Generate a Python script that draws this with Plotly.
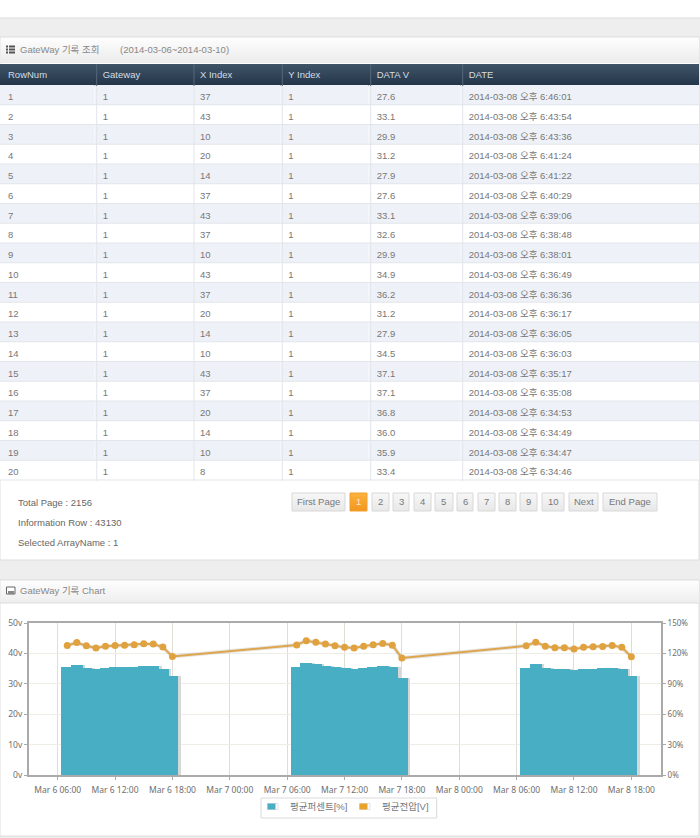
#!/usr/bin/env python3
"""GateWay log page: record table, pager and hourly chart."""

from datetime import datetime

import plotly.graph_objects as go

WIDTH = 700
HEIGHT = 838
FONT = "Liberation Sans, Noto Sans CJK KR, sans-serif"
CHART_FONT = "Noto Sans, Noto Sans CJK KR, sans-serif"

# table data
table_columns = ["RowNum", "Gateway", "X Index", "Y Index", "DATA V", "DATE"]
row_num = list(range(1, 21))
gateway = [1] * 20
x_index = [37, 43, 10, 20, 14, 37, 43, 37, 10, 43, 37, 20, 14, 10, 43, 37, 20, 14, 10, 8]
y_index = [1] * 20
data_v = ["27.6", "33.1", "29.9", "31.2", "27.9", "27.6", "33.1", "32.6", "29.9", "34.9",
          "36.2", "31.2", "27.9", "34.5", "37.1", "37.1", "36.8", "36.0", "35.9", "33.4"]
clock = ["6:46:01", "6:43:54", "6:43:36", "6:41:24", "6:41:22", "6:40:29", "6:39:06",
         "6:38:48", "6:38:01", "6:36:49", "6:36:36", "6:36:17", "6:36:05", "6:36:03",
         "6:35:17", "6:35:08", "6:34:53", "6:34:49", "6:34:47", "6:34:46"]
date_text = [f"2014-03-08 오후 {c}" for c in clock]

# chart data
days = [6, 7, 8]
hours = [7, 8, 9, 10, 11, 12, 13, 14, 15, 16, 17, 18]
percent_mar6 = [106.4, 109.0, 106.0, 104.8, 105.8, 106.4, 106.8, 107.1, 107.7, 107.4, 105.1, 97.9]
percent_mar7 = [107.0, 110.7, 109.5, 108.0, 106.5, 105.5, 105.0, 105.8, 107.0, 108.0, 106.8, 96.0]
percent_mar8 = [106.0, 109.4, 106.0, 105.0, 104.8, 103.8, 104.8, 105.0, 105.4, 106.0, 104.8, 97.6]
volt_mar6 = [42.6, 43.6, 42.5, 41.8, 42.4, 42.6, 42.7, 42.9, 43.2, 43.1, 42.1, 39.0]
volt_mar7 = [42.8, 44.2, 43.7, 43.1, 42.5, 42.0, 41.8, 42.4, 42.9, 43.3, 42.7, 38.5]
volt_mar8 = [42.5, 43.7, 42.4, 41.9, 41.9, 41.5, 42.0, 42.2, 42.3, 42.6, 42.0, 38.9]

percent_name = "평균퍼센트[%]"
volt_name = "평균전압[V]"
pager_labels = ["First Page", "1", "2", "3", "4", "5", "6", "7", "8", "9", "10", "Next", "End Page"]
info_lines = ["Total Page : 2156", "Information Row : 43130", "Selected ArrayName : 1"]

times = [datetime(2014, 3, d, h) for d in days for h in hours]
percent = percent_mar6 + percent_mar7 + percent_mar8
volts = volt_mar6 + volt_mar7 + volt_mar8

BAR_COLOR = "#47AEC4"
LINE_COLOR = "#DDA64E"
MARKER_COLOR = "#E0A23E"


def px(x):
    return x / WIDTH


def py(y):
    return 1 - y / HEIGHT


def rect(x0, y0, x1, y1, fill, line=None, layer="below"):
    return dict(
        type="rect", xref="paper", yref="paper", layer=layer,
        x0=px(x0), x1=px(x1), y0=py(y0), y1=py(y1),
        fillcolor=fill, line=dict(color=line or fill, width=1 if line else 0),
    )


def hline(x0, x1, y, color, layer="below"):
    return dict(
        type="line", xref="paper", yref="paper", layer=layer,
        x0=px(x0), x1=px(x1), y0=py(y), y1=py(y), line=dict(color=color, width=1),
    )


def vline(x, y0, y1, color, layer="below"):
    return dict(
        type="line", xref="paper", yref="paper", layer=layer,
        x0=px(x), x1=px(x), y0=py(y0), y1=py(y1), line=dict(color=color, width=1),
    )


def gradient(x0, x1, y0, y1, top, bottom):
    """Stack of thin bands, shapes have no gradient fill."""
    bands = []
    n = y1 - y0
    for i in range(n):
        mix = i / max(n - 1, 1)
        c = [round(a + (b - a) * mix) for a, b in zip(top, bottom)]
        bands.append(rect(x0, y0 + i, x1, y0 + i + 1, f"rgb({c[0]},{c[1]},{c[2]})"))
    return bands


def text(x, y, s, size=9.5, color="#777777", anchor="left", family=FONT):
    return dict(
        xref="paper", yref="paper", x=px(x), y=py(y), text=s, showarrow=False,
        xanchor=anchor, yanchor="middle", font=dict(family=family, size=size, color=color),
    )


shapes = []
annotations = []

# page chrome
shapes.append(rect(0, 18, 700, 838, "#EEEEEE"))
shapes.append(hline(0, 700, 18, "#DDDDDD"))
shapes.append(rect(0, 37, 699, 560, "#FFFFFF", "#DDDDDD"))
shapes.append(rect(0, 580, 699, 836, "#FFFFFF", "#DDDDDD"))
shapes += gradient(1, 699, 38, 63, (253, 253, 253), (236, 236, 236))
shapes += gradient(1, 699, 581, 603, (253, 253, 253), (238, 238, 238))
shapes.append(hline(0, 699, 603, "#DDDDDD"))

# list icon next to the table title
for row_y in (45.5, 48.5, 51.5):
    shapes.append(rect(6, row_y, 8, row_y + 2, "#555555"))
    shapes.append(rect(9, row_y, 15, row_y + 2, "#555555"))
# picture icon next to the chart title
shapes.append(rect(6.5, 587, 15, 594, "#FFFFFF", "#666666"))
shapes.append(rect(8, 591, 14, 594, "#888888"))

annotations.append(text(18, 49, "GateWay 기록 조회", color="#888888"))
annotations.append(text(118, 49, "(2014-03-06~2014-03-10)", color="#888888"))
annotations.append(text(18, 590.5, "GateWay 기록 Chart", color="#888888"))

# table header and grid
shapes += gradient(0, 699, 64, 86, (64, 84, 104), (35, 53, 72))
col_lines = [96.7, 194, 282.3, 370.7, 462.7]
for x in col_lines:
    shapes.append(vline(x, 64, 86, "#56677A", layer="above"))
    shapes.append(vline(x, 86, 481, "#E2E5EA", layer="above"))
for i in range(1, 21):
    shapes.append(hline(0, 699, 85 + i * 19.75, "#E2E5EA", layer="above"))

# pager
pager_spans = [(292, 345), (350, 367), (372, 389), (393, 409), (414, 431), (435, 453), (457, 473),
               (478, 495), (499, 516), (520, 537), (542, 564), (569, 598), (603, 657)]
for label, (x0, x1) in zip(pager_labels, pager_spans):
    active = label == "1"
    shapes += gradient(x0, x1, 493, 511,
                       (252, 178, 60) if active else (247, 247, 247),
                       (243, 150, 30) if active else (232, 232, 232))
    shapes.append(rect(x0, 493, x1, 511, "rgba(0,0,0,0)", "#EFA030" if active else "#D8D8D8"))
    annotations.append(text((x0 + x1) / 2, 501.3, label, color="#FFE9C8" if active else "#777777", anchor="center"))

for y, line in zip((502.5, 522.5, 542.5), info_lines):
    annotations.append(text(16, y, line, size=9.5, color="#666666"))

# legend box, the native one cannot get this flat
shapes.append(rect(261, 798, 436.7, 818, "#FFFFFF", "#DADADA"))
for x0, color, label, label_x in ((267.5, BAR_COLOR, percent_name, 287.5), (359.5, "#E8A22C", volt_name, 379.5)):
    shapes.append(rect(x0, 803.5, x0 + 10.5, 809.5, "#FFFFFF", "#E2E2E2"))
    shapes.append(rect(x0, 803.5, x0 + 8, 809.5, color))
    annotations.append(text(label_x, 806.7, label, size=9.5))

fig = go.Figure()

# column edges sit 2px left of the drawn lines, table cells have a fixed 8px pad
table_widths = [94.7, 97.3, 88.3, 88.4, 92, 238.3]
fig.add_trace(
    go.Table(
        domain=dict(x=[0, 699 / WIDTH], y=[py(481), py(63)]),
        columnwidth=table_widths,
        header=dict(
            values=table_columns,
            height=22,
            align="left",
            fill=dict(color="rgba(0,0,0,0)"),
            line=dict(width=0),
            font=dict(family=FONT, size=9.5, color="#D5DCE3"),
        ),
        cells=dict(
            values=[row_num, gateway, x_index, y_index, data_v, date_text],
            height=19.75,
            align="left",
            fill=dict(color=[["#EEF2F8" if i % 2 == 0 else "#FFFFFF" for i in range(20)]] * 6),
            line=dict(width=0),
            font=dict(family=FONT, size=9.5, color="#777777"),
        ),
    )
)

BAR_MS = 1.25 * 3600 * 1000
fig.add_trace(
    go.Bar(
        x=times, y=percent, yaxis="y2", width=BAR_MS, offset=-BAR_MS / 2 + 900000,
        marker=dict(color="#D4D8D8", line=dict(width=0)), hoverinfo="skip",
    )
)
fig.add_trace(
    go.Bar(
        x=times, y=percent, yaxis="y2", width=BAR_MS, offset=-BAR_MS / 2,
        name=percent_name, marker=dict(color=BAR_COLOR, line=dict(width=0)),
    )
)
# line shadow, then the voltage line
fig.add_trace(
    go.Scatter(
        x=times, y=volts, mode="lines", line=dict(color="rgba(120,110,90,0.18)", width=4),
        hoverinfo="skip",
    )
)
fig.add_trace(
    go.Scatter(
        x=times, y=volts, mode="lines+markers", name=volt_name,
        line=dict(color=LINE_COLOR, width=2), marker=dict(color=MARKER_COLOR, size=7),
    )
)

axis_font = dict(family=CHART_FONT, size=8.5, color="#6E6E6E")
fig.update_layout(
    width=WIDTH,
    height=HEIGHT,
    autosize=False,
    showlegend=False,
    margin=dict(l=0, r=0, t=0, b=0),
    paper_bgcolor="#FFFFFF",
    plot_bgcolor="#FFFDF8",
    barmode="overlay",
    bargap=0,
    shapes=shapes,
    annotations=annotations,
    xaxis=dict(
        automargin=False,
        domain=[px(29), px(661)],
        type="date",
        range=["2014-03-06 03:00", "2014-03-08 21:06"],
        tick0="2014-03-06 00:00",
        dtick=6 * 3600 * 1000,
        tickformat="%b %-d %H:%M",
        tickfont=axis_font,
        ticks="outside",
        ticklen=3,
        tickcolor="#AAAAAA",
        ticklabelstandoff=2,
        showgrid=True,
        gridcolor="#DEDDD6",
        showline=True,
        linecolor="#AAAAAA",
        linewidth=2,
        mirror=True,
        zeroline=False,
    ),
    yaxis=dict(
        automargin=False,
        domain=[py(775.3), py(623)],
        range=[0, 50],
        dtick=10,
        ticksuffix="v",
        tickfont=axis_font,
        ticks="outside",
        ticklen=3,
        tickcolor="#AAAAAA",
        showgrid=True,
        gridcolor="#EEEDE6",
        showline=True,
        linecolor="#AAAAAA",
        linewidth=2,
        zeroline=False,
    ),
    yaxis2=dict(
        automargin=False,
        overlaying="y",
        side="right",
        range=[0, 150],
        dtick=30,
        ticksuffix="%",
        tickfont=dict(family=CHART_FONT, size=8, color="#6E6E6E"),
        ticks="outside",
        ticklen=3,
        tickcolor="#AAAAAA",
        showgrid=False,
        showline=True,
        linecolor="#AAAAAA",
        linewidth=2,
        zeroline=False,
    ),
)

fig.write_html(
    "out.html",
    config={"displayModeBar": False},
    post_script="document.body.style.margin = '0';",
)
